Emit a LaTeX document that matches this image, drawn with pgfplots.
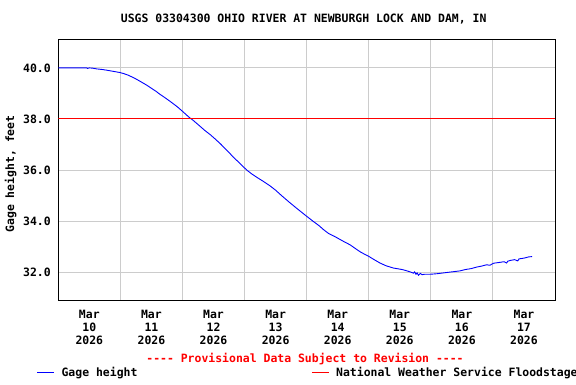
\documentclass[border=0pt]{standalone}
\usepackage{fontspec}
\setmainfont{DejaVu Sans Mono}
\usepackage{pgfplots}
\pgfplotsset{compat=1.18}
\definecolor{gridgray}{RGB}{204,204,204}
\definecolor{usblue}{RGB}{0,0,255}
\definecolor{usred}{RGB}{255,0,0}
\newcommand{\hy}{\mbox{-}}
\begin{document}
\begin{tikzpicture}[x=1bp,y=1bp,font=\fontsize{11.5}{13}\selectfont\bfseries]
\useasboundingbox (0,0) rectangle (576,384);
\begin{axis}[
  at={(58.3bp,84bp)}, anchor=south west,
  scale only axis, width=496.7bp, height=260.7bp,
  xmin=0, xmax=8, ymin=30.91, ymax=41.12,
  axis line style={line width=1bp},
  xtick={0.5,1.5,2.5,3.5,4.5,5.5,6.5,7.5},
  xticklabels={{Mar\\10\\2026},{Mar\\11\\2026},{Mar\\12\\2026},{Mar\\13\\2026},{Mar\\14\\2026},{Mar\\15\\2026},{Mar\\16\\2026},{Mar\\17\\2026}},
  xticklabel style={align=center, yshift=-6.5bp, font=\fontsize{11.5}{13}\selectfont\bfseries},
  minor xtick={1,2,3,4,5,6,7},
  xminorgrids=true, xmajorgrids=false,
  ytick={32,34,36,38,40},
  ymajorgrids=true,
  yticklabel style={xshift=-4bp, /pgf/number format/.cd, fixed, fixed zerofill, precision=1, assume math mode=true},
  major tick length=0pt, minor tick length=0pt,
  grid style={gridgray, line width=1bp},
  minor grid style={gridgray, line width=1bp},
  legend columns=2,
  legend style={draw=none, fill=none, inner sep=0pt, outer sep=0pt,
    at={(-0.0429,-0.2789)}, anchor=west,
    nodes={inner sep=0pt},
    /tikz/every odd column/.append style={column sep=6.7bp},
    /tikz/every even column/.append style={column sep=174bp}},
  legend image code/.code={\draw[#1] (0bp,0bp) -- (17bp,0bp);},
  clip=true,
]
\addplot[usblue, line width=0.9bp] coordinates {
(0.00,40.00) (0.10,40.00) (0.20,40.00) (0.30,40.00) (0.40,40.00) (0.46,40.00) (0.47,39.98) (0.50,40.00)
(0.55,39.99) (0.62,39.96) (0.70,39.94) (0.78,39.91) (0.85,39.88) (0.92,39.85) (0.99,39.82) (1.05,39.78)
(1.12,39.72) (1.21,39.62) (1.30,39.50) (1.42,39.33) (1.50,39.20) (1.57,39.09) (1.64,38.96) (1.72,38.83)
(1.80,38.69) (1.85,38.60) (1.92,38.47) (2.00,38.30) (2.05,38.19) (2.10,38.08) (2.18,37.93) (2.28,37.72)
(2.36,37.55) (2.45,37.38) (2.52,37.23) (2.61,37.03) (2.70,36.81) (2.76,36.66) (2.82,36.50) (2.90,36.32)
(2.97,36.15) (3.04,35.99) (3.12,35.84) (3.20,35.71) (3.30,35.56) (3.41,35.38) (3.50,35.21) (3.60,34.99)
(3.73,34.72) (3.85,34.48) (4.00,34.19) (4.10,34.00) (4.20,33.82) (4.27,33.67) (4.35,33.52) (4.45,33.40)
(4.59,33.21) (4.70,33.07) (4.80,32.90) (4.86,32.80) (4.95,32.68) (5.00,32.62) (5.08,32.50) (5.18,32.36)
(5.28,32.25) (5.40,32.16) (5.50,32.12) (5.56,32.09) (5.63,32.04) (5.68,32.00) (5.72,31.96) (5.74,32.01)
(5.76,31.92) (5.78,31.97) (5.80,31.88) (5.83,31.95) (5.86,31.90) (5.90,31.92) (5.94,31.92) (6.00,31.92)
(6.10,31.94) (6.20,31.97) (6.30,32.00) (6.40,32.03) (6.47,32.05) (6.55,32.10) (6.65,32.14) (6.74,32.20)
(6.82,32.24) (6.90,32.29) (6.95,32.27) (7.01,32.35) (7.10,32.38) (7.18,32.41) (7.22,32.36) (7.24,32.43)
(7.28,32.46) (7.35,32.49) (7.40,32.44) (7.42,32.52) (7.50,32.55) (7.58,32.60) (7.63,32.61)
};
\addlegendentry{Gage height}
\addplot[usred, line width=1bp] coordinates {(0,38) (8,38)};
\addlegendentry{National Weather Service Floodstage}
\end{axis}
\node at (303.7,365) {USGS 03304300 OHIO RIVER AT NEWBURGH LOCK AND DAM, IN};
\node[rotate=90] at (10.7,210) {Gage height, feet};
\node[text=usred] at (305,25.3) {\hy\hy\hy\hy{} Provisional Data Subject to Revision \hy\hy\hy\hy};
\end{tikzpicture}
\end{document}
